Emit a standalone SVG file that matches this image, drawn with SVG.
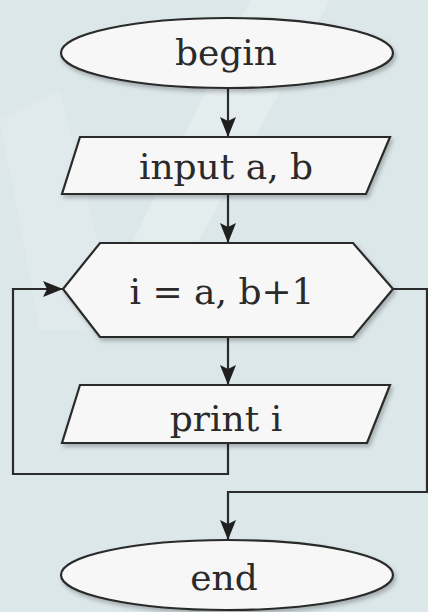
<svg xmlns="http://www.w3.org/2000/svg" width="428" height="612" viewBox="0 0 428 612">
<defs>
<style>
.shape{fill:#f7f7f7;stroke:#2b2b2b;stroke-width:2.2}
.lbl{font-family:"DejaVu Serif","Liberation Serif",serif;font-size:36px;fill:#2a2a2a;text-anchor:middle}
.wire{fill:none;stroke:#2b2b2b;stroke-width:2.2}
</style>
<marker id="arr" viewBox="0 0 20 16" refX="20" refY="8" markerWidth="20" markerHeight="16" markerUnits="userSpaceOnUse" orient="auto">
<path d="M0,0 L20,8 L0,16 L4,8 Z" fill="#1f1f1f"/>
</marker>
<filter id="sh" x="-10%" y="-10%" width="120%" height="130%">
<feDropShadow dx="2" dy="3" stdDeviation="2" flood-color="#000" flood-opacity="0.25"/>
</filter>
</defs>
<rect x="0" y="0" width="428" height="612" fill="#dbe7e9"/>
<polygon points="250,0 330,0 150,330 90,330" fill="#ffffff" opacity="0.25"/>
<polygon points="0,120 60,90 120,330 40,330" fill="#ffffff" opacity="0.15"/>

<g id="connectors">
<line class="wire" x1="228" y1="88" x2="228" y2="137" marker-end="url(#arr)"/>
<line class="wire" x1="228" y1="194" x2="228" y2="243" marker-end="url(#arr)"/>
<line class="wire" x1="228" y1="337" x2="228" y2="385" marker-end="url(#arr)"/>
<polyline class="wire" points="228,443 228,474 13,474 13,289 63,289" marker-end="url(#arr)"/>
<polyline class="wire" points="393,289 427,289 427,492 228,492 228,540" marker-end="url(#arr)"/>
</g>

<g id="begin">
<ellipse class="shape" cx="227" cy="53" rx="166" ry="35" filter="url(#sh)"/>
<text class="lbl" x="226" y="65">begin</text>
</g>

<g id="input">
<polygon class="shape" points="80,137 390,137 366,194 62,194" filter="url(#sh)"/>
<text class="lbl" x="226" y="179">input a, b</text>
</g>

<g id="loop">
<polygon class="shape" points="63,289 100,243 353,243 393,289 353,337 100,337" filter="url(#sh)"/>
<text class="lbl" x="222" y="304">i = a, b+1</text>
</g>

<g id="print">
<polygon class="shape" points="80,385 390,385 367,443 62,443" filter="url(#sh)"/>
<text class="lbl" x="226" y="431">print i</text>
</g>

<g id="end">
<ellipse class="shape" cx="227" cy="575" rx="166" ry="35" filter="url(#sh)"/>
<text class="lbl" x="224" y="590">end</text>
</g>
</svg>
